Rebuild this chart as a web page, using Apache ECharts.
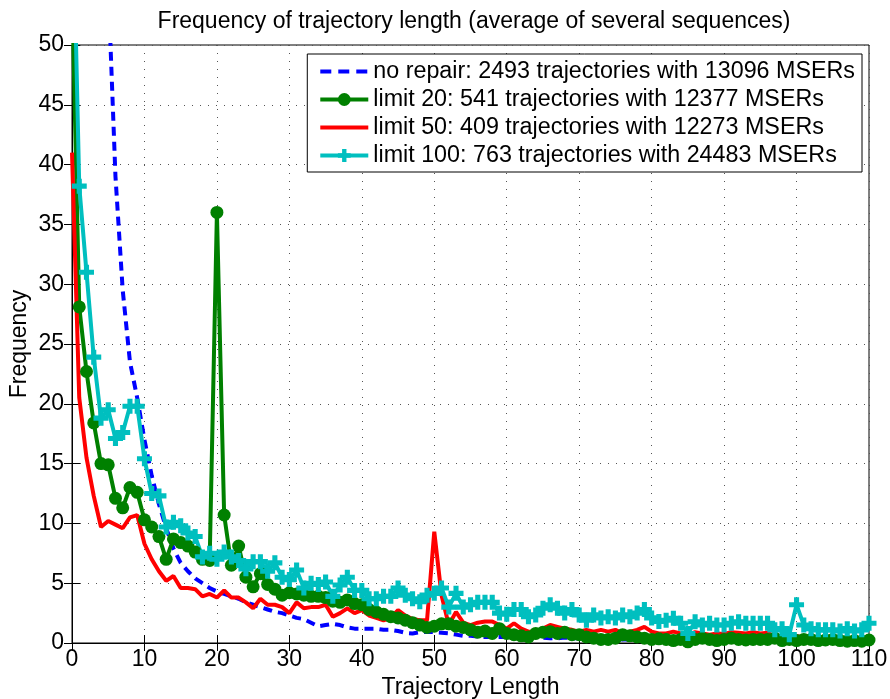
<!DOCTYPE html>
<html>
<head>
<meta charset="utf-8">
<script src="https://cdn.jsdelivr.net/npm/echarts@6/dist/echarts.min.js"></script>
<style>
html,body{margin:0;padding:0;background:#fff;}
#chart{width:890px;height:699px;}
</style>
</head>
<body>
<div id="chart"></div>
<script>
// Trajectory length (x)
var lengths = [0,1,2,3,4,5,6,7,8,9,10,11,12,13,14,15,16,17,18,19,20,21,22,23,24,25,26,27,28,29,30,
31,32,33,34,35,36,37,38,39,40,41,42,43,44,45,46,47,48,49,50,51,52,53,54,55,56,57,58,59,60,
61,62,63,64,65,66,67,68,69,70,71,72,73,74,75,76,77,78,79,80,81,82,83,84,85,86,87,88,89,90,
91,92,93,94,95,96,97,98,99,100,101,102,103,104,105,106,107,108,109,110];

var noRepair = [600,400,250,150,90,55,39,29.5,23.5,20.5,17.0,14.0,11.6,9.6,7.9,6.7,6.0,5.4,5.0,4.6,4.3,
4.1,3.9,3.7,3.4,3.2,3.0,2.8,2.6,2.5,2.3,
2.1,2.0,1.7,1.4,1.5,1.6,1.5,1.3,1.2,1.2,1.2,1.2,1.1,1.1,1.0,0.85,0.8,0.9,0.95,0.9,
0.85,0.8,0.7,0.6,0.6,0.55,0.5,0.5,0.5,0.5,0.45,0.5,0.45,0.5,0.45,0.4,0.4,0.45,0.4,0.4,
0.35,0.4,0.35,0.3,0.35,0.3,0.3,0.3,0.25,0.3,0.25,0.25,0.2,0.25,0.2,0.2,0.2,0.2,0.15,0.1,
0.15,0.15,0.1,0.15,0.1,0.1,0.1,0.1,0.1,0.1,0.1,0.1,0.1,0.05,0.1,0.05,0.1,0.05,0.05,0.05];

var limit20 = [55,28.1,22.7,18.4,15.0,14.9,12.1,11.3,13.0,12.6,10.3,9.7,8.9,7.0,8.7,8.4,8.1,7.6,7.0,6.9,36.0,
10.7,6.5,8.1,5.5,4.7,5.8,4.9,4.5,4.0,4.2,
4.1,4.0,3.9,3.9,3.8,3.5,3.4,3.6,3.3,3.2,2.8,2.6,2.4,2.2,2.1,1.9,1.7,1.5,1.3,1.4,
1.6,1.6,1.4,1.3,1.1,0.9,1.0,0.8,1.2,0.8,0.7,0.6,0.5,0.8,0.9,0.95,0.8,0.9,0.7,0.7,
0.5,0.4,0.3,0.3,0.4,0.7,0.6,0.5,0.4,0.3,0.35,0.3,0.2,0.3,0.1,0.3,0.4,0.3,0.2,0.3,
0.4,0.3,0.25,0.3,0.3,0.3,0.4,0.2,0.3,0.2,0.3,0.3,0.2,0.25,0.3,0.2,0.15,0.2,0.15,0.25];

var limit50 = [41,20.5,15.5,12.3,9.7,10.2,9.9,9.6,10.5,10.7,8.3,7.0,6.0,5.2,5.6,4.6,4.6,4.5,3.9,4.1,3.8,
4.4,3.8,3.8,3.4,2.9,3.7,3.2,3.2,3.0,2.5,
3.4,2.9,3.0,3.0,3.2,2.2,2.5,2.9,2.5,2.75,2.3,2.1,1.9,2.1,2.75,2.3,2.0,1.9,1.9,9.3,
4.0,1.5,2.6,1.7,1.5,1.7,1.8,1.8,1.5,1.2,1.65,1.2,0.95,0.95,1.2,1.5,1.35,1.2,1.1,0.95,
1.1,0.95,1.1,0.95,1.1,0.8,0.95,1.1,1.35,0.95,0.8,0.8,0.95,0.8,0.7,0.9,0.8,0.7,0.8,0.75,
0.9,0.85,0.8,0.9,0.8,0.85,0.55,0.5,0.55,0.6,0.45,0.4,0.45,0.4,0.4,0.45,0.35,0.4,0.3,0.3];

var limit100 = [65,38.2,31.0,23.9,18.8,19.5,17.1,17.6,19.8,19.8,15.4,12.5,12.3,9.7,10.1,9.8,9.2,8.9,7.2,7.5,7.0,
7.6,7.2,6.9,6.2,6.8,6.8,6.0,6.7,5.5,5.3,
6.1,4.6,5.0,4.9,5.1,3.9,4.85,5.5,4.4,4.4,3.7,3.7,3.9,3.9,4.6,4.0,3.7,3.45,4.0,4.15,
4.6,3.0,4.15,3.0,3.2,3.4,3.4,3.4,2.5,2.4,2.8,2.8,2.2,2.35,2.9,3.2,2.9,2.5,2.8,2.35,
1.9,2.35,2.1,2.2,2.1,2.35,2.2,2.5,2.8,2.1,1.8,1.9,2.07,1.65,0.8,1.78,1.5,1.65,1.5,1.5,
1.65,1.78,1.65,1.65,1.65,1.65,1.1,1.2,0.7,3.2,1.5,1.2,1.1,1.1,1.1,1.0,1.2,1.0,1.1,1.65];

var seriesNames = [
  'no repair: 2493 trajectories with 13096 MSERs',
  'limit 20: 541 trajectories with 12377 MSERs',
  'limit 50: 409 trajectories with 12273 MSERs',
  'limit 100: 763 trajectories with 24483 MSERs'
];
var xTicks = {min:0, max:110, interval:10};
var yTicks = {min:0, max:50, interval:5};

function pairs(vals){ return lengths.map(function(x,i){ return [x, vals[i]]; }); }

var FONT = "'Liberation Sans', Arial, sans-serif";
var FS = 23;
var plusPath = 'path://M-1.7,-5L1.7,-5L1.7,-1.7L5,-1.7L5,1.7L1.7,1.7L1.7,5L-1.7,5L-1.7,1.7L-5,1.7L-5,-1.7L-1.7,-1.7Z';

var BLUE = '#0000ff', GREEN = '#008000', RED = '#ff0000', CYAN = '#00bfbf';
var gridDots = {show:true, lineStyle:{color:'#555', width:1, type:[1,7]}};

var chart = echarts.init(document.getElementById('chart'), null, {renderer:'canvas'});
chart.setOption({
  animation:false,
  backgroundColor:'#fff',
  textStyle:{fontFamily:FONT},
  title:{
    text:'Frequency of trajectory length (average of several sequences)',
    left:469, textAlign:'center', top:5,
    textStyle:{fontFamily:FONT, fontSize:FS, fontWeight:'normal', color:'#000'}
  },
  grid:{left:72, right:21, top:45, bottom:56, show:true, borderColor:'#000', borderWidth:1,
        backgroundColor:'#fff', containLabel:false, outerBoundsMode:'none'},
  legend:{
    data:[
      {name:seriesNames[0], itemStyle:{opacity:0}, lineStyle:{color:BLUE, width:4, type:[11,7]}},
      {name:seriesNames[1], lineStyle:{color:GREEN, width:4}},
      {name:seriesNames[2], itemStyle:{opacity:0}, lineStyle:{color:RED, width:4}},
      {name:seriesNames[3], lineStyle:{color:CYAN, width:4}}
    ],
    orient:'vertical',
    right:28, top:54,
    backgroundColor:'#fff',
    borderColor:'#000', borderWidth:1, borderRadius:0,
    padding:[6,7,5,11],
    itemWidth:48, itemHeight:16, itemGap:5,
    selectedMode:false,
    textStyle:{fontFamily:FONT, fontSize:23.3, color:'#000'}
  },
  xAxis:[{
    type:'value', min:xTicks.min, max:xTicks.max, interval:xTicks.interval,
    name:'Trajectory Length', nameLocation:'middle', nameGap:33,
    nameTextStyle:{fontFamily:FONT, fontSize:FS, color:'#000'},
    axisLine:{show:true, lineStyle:{color:'#000', width:1}},
    axisTick:{show:true, inside:true, length:8, lineStyle:{color:'#000'}},
    axisLabel:{fontFamily:FONT, fontSize:FS, color:'#000', margin:5},
    splitLine:gridDots
  },{
    type:'value', position:'top', min:xTicks.min, max:xTicks.max, interval:xTicks.interval,
    axisLine:{show:true, lineStyle:{color:'#000', width:1}},
    axisTick:{show:true, inside:true, length:8, lineStyle:{color:'#000'}},
    axisLabel:{show:false}, splitLine:{show:false}
  }],
  yAxis:[{
    type:'value', min:yTicks.min, max:yTicks.max, interval:yTicks.interval,
    name:'Frequency', nameLocation:'middle', nameGap:41, nameRotate:90, nameMoveOverlap:false,
    nameTextStyle:{fontFamily:FONT, fontSize:FS, color:'#000'},
    axisLine:{show:true, lineStyle:{color:'#000', width:1}},
    axisTick:{show:true, inside:true, length:8, lineStyle:{color:'#000'}},
    axisLabel:{fontFamily:FONT, fontSize:FS, color:'#000', margin:8},
    splitLine:gridDots
  },{
    type:'value', position:'right', min:yTicks.min, max:yTicks.max, interval:yTicks.interval,
    axisLine:{show:true, lineStyle:{color:'#000', width:1}},
    axisTick:{show:true, inside:true, length:8, lineStyle:{color:'#000'}},
    axisLabel:{show:false}, splitLine:{show:false}
  }],
  series:[
    {name:seriesNames[0], type:'line', data:pairs(noRepair), symbol:'none',
     lineStyle:{color:BLUE, width:4, type:[9,6]}, itemStyle:{color:BLUE}, clip:true},
    {name:seriesNames[1], type:'line', data:pairs(limit20), symbol:'circle', symbolSize:13, showAllSymbol:true,
     lineStyle:{color:GREEN, width:4}, itemStyle:{color:GREEN, borderWidth:0}, clip:true},
    {name:seriesNames[2], type:'line', data:pairs(limit50), symbol:'none',
     lineStyle:{color:RED, width:4}, itemStyle:{color:RED}, clip:true},
    {name:seriesNames[3], type:'line', data:pairs(limit100), symbol:plusPath, symbolSize:15, showAllSymbol:true,
     lineStyle:{color:CYAN, width:4}, itemStyle:{color:CYAN, borderWidth:0}, clip:true}
  ]
});
</script>
</body>
</html>
